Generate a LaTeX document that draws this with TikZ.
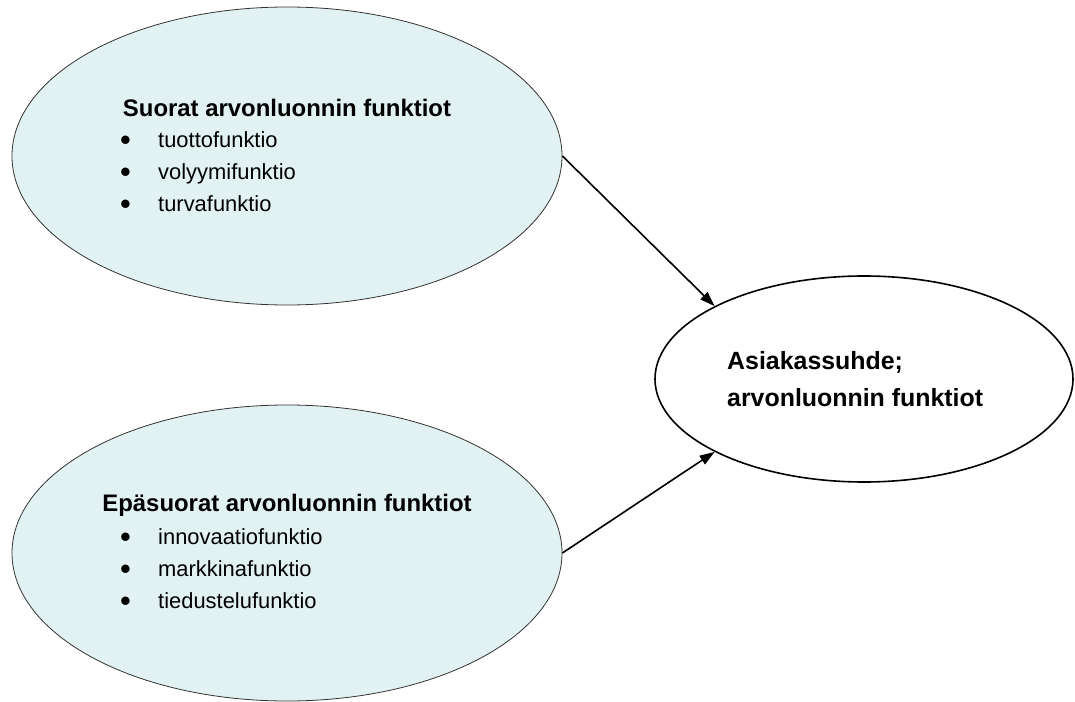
\documentclass[tikz,border=0pt]{standalone}
\usepackage{fontspec}
\setmainfont{Liberation Sans}
\usetikzlibrary{arrows.meta,shapes.geometric}
\definecolor{vaaleaturkoosi}{HTML}{E2F1F1}
\tikzset{
	soikio/.style={ellipse, draw=black!80, line width=0.8bp, fill=vaaleaturkoosi, inner sep=0pt},
	tulos/.style={ellipse, draw=black, line width=1.6bp, fill=white, inner sep=0pt},
	otsikko/.style={font=\fontsize{24}{37}\selectfont\bfseries, inner sep=0pt},
	lista/.style={font=\fontsize{22}{32}\selectfont, align=left, inner sep=0pt, anchor=west},
	nuoli/.style={line width=1.6bp, -{Triangle[length=15bp,width=10bp]}},
}
\newcommand{\kohta}{\makebox[38bp][l]{\raisebox{-2.5bp}{\fontsize{31}{32}\selectfont\textbullet}}}

\begin{document}
\begin{tikzpicture}[x=1bp, y=-1bp]
			%%%%% START %%%%%
			\useasboundingbox (0, 0) rectangle (1075, 702);
			
			% suorat funktiot
			\node[soikio, minimum width=550bp, minimum height=298bp] (suorat) at (287, 156) {};
			\node[otsikko] (suorat-t) at (287, 108) {Suorat arvonluonnin funktiot};
			\node[lista] (suorat-l) at (120, 173) {\kohta tuottofunktio\\ \kohta volyymifunktio\\ \kohta turvafunktio};
			
			% epasuorat funktiot
			\node[soikio, minimum width=550bp, minimum height=296bp] (epasuorat) at (287, 553) {};
			\node[otsikko] (epasuorat-t) at (287, 505) {Epäsuorat arvonluonnin funktiot};
			\node[lista] (epasuorat-l) at (120, 570) {\kohta innovaatiofunktio\\ \kohta markkinafunktio\\ \kohta tiedustelufunktio};
			
			% asiakassuhde
			\node[tulos, minimum width=418bp, minimum height=206bp] (suhde) at (864, 379) {};
			\node[otsikko, font=\fontsize{25}{37}\selectfont\bfseries, align=left, anchor=west] (suhde-t) at (727, 379) {Asiakassuhde;\\arvonluonnin funktiot};
			
			\draw[nuoli] (suorat.east) -- (suhde.154);
			\draw[nuoli] (epasuorat.east) -- (suhde.206);
			%%%%% END %%%%%
\end{tikzpicture}
\end{document}
